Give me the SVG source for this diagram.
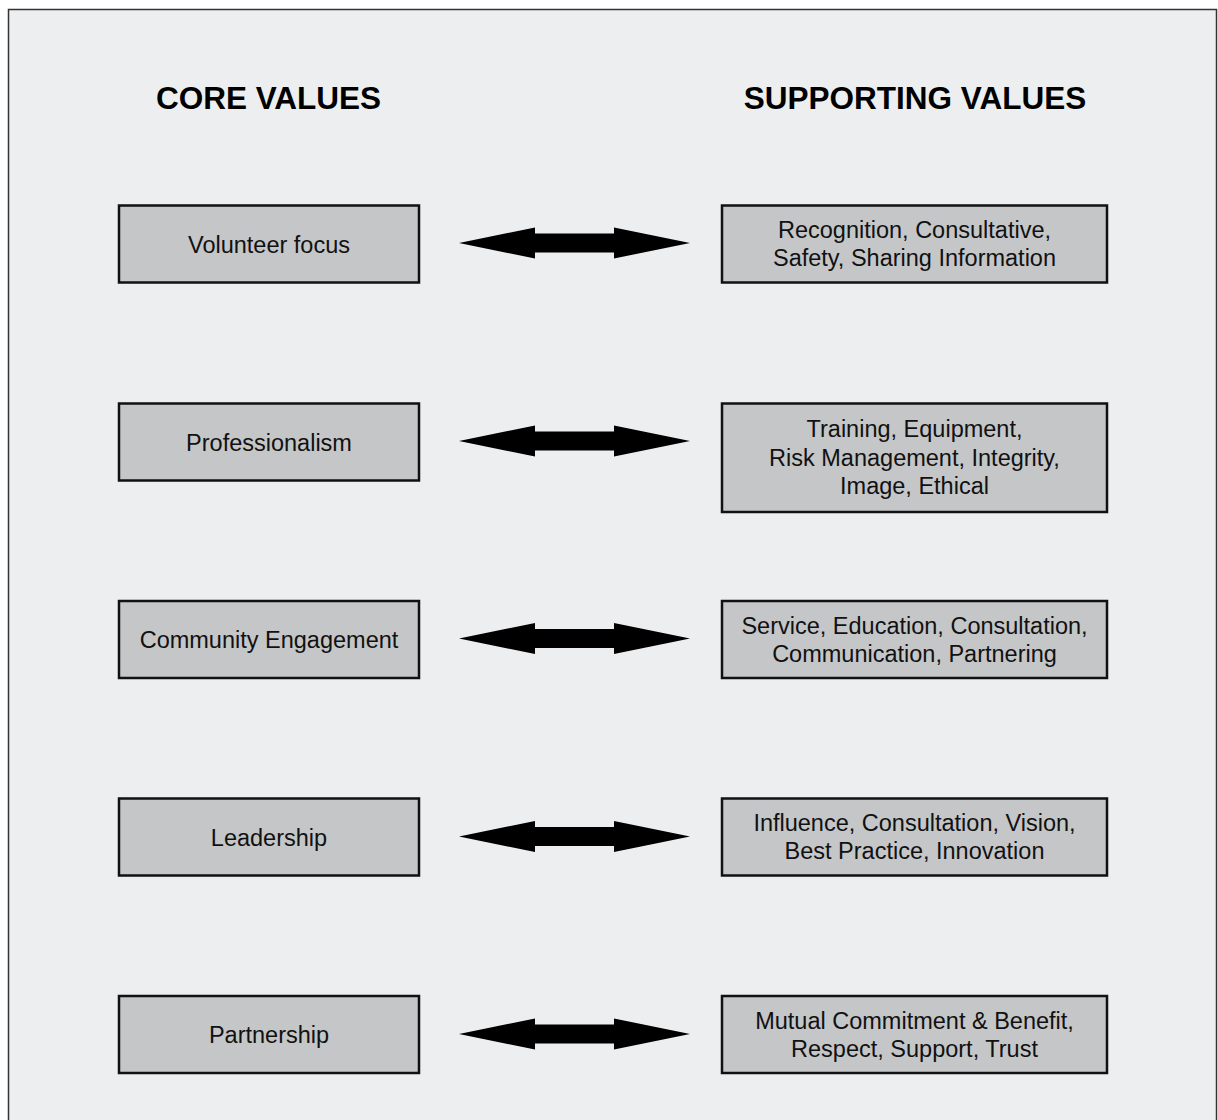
<svg xmlns="http://www.w3.org/2000/svg" xmlns:xlink="http://www.w3.org/1999/xlink" width="1218" height="1120" viewBox="0 0 1218 1120">
<style>
.box{fill:#C5C6C8;stroke:#111;stroke-width:2.5}
.hdr{font-family:"Liberation Sans",Arial,sans-serif;font-weight:bold;font-size:31.5px;fill:#000;text-anchor:middle}
.lbl{font-family:"Liberation Sans",Arial,sans-serif;font-size:23.5px;fill:#111;text-anchor:middle}
.arr{fill:#000}
</style>
<defs>
<path id="dbl" d="M459,0 L535,-15.5 L535,-9.5 L614,-9.5 L614,-15.5 L690,0 L614,15.5 L614,9.5 L535,9.5 L535,15.5 Z"/>
</defs>
<rect x="0" y="0" width="1218" height="1120" fill="#FFFFFF"/>
<rect x="8.5" y="9.5" width="1208" height="1120" fill="#EDEEF0" stroke="#333" stroke-width="1.5"/>
<text class="hdr" x="268.5" y="109">CORE VALUES</text>
<text class="hdr" x="915" y="109">SUPPORTING VALUES</text>

<g id="core-volunteer"><rect class="box" x="119" y="205.5" width="300" height="77"/><text class="lbl" x="269" y="252.5">Volunteer focus</text></g>
<g id="core-professionalism"><rect class="box" x="119" y="403.5" width="300" height="77"/><text class="lbl" x="269" y="450.5">Professionalism</text></g>
<g id="core-community"><rect class="box" x="119" y="601" width="300" height="77"/><text class="lbl" x="269" y="648">Community Engagement</text></g>
<g id="core-leadership"><rect class="box" x="119" y="798.5" width="300" height="77"/><text class="lbl" x="269" y="845.5">Leadership</text></g>
<g id="core-partnership"><rect class="box" x="119" y="996" width="300" height="77"/><text class="lbl" x="269" y="1043">Partnership</text></g>

<g id="sup-volunteer"><rect class="box" x="722" y="205.5" width="385" height="77"/><text class="lbl" x="914.5" y="238">Recognition, Consultative,</text><text class="lbl" x="914.5" y="266">Safety, Sharing Information</text></g>
<g id="sup-professionalism"><rect class="box" x="722" y="403.5" width="385" height="108.5"/><text class="lbl" x="914.5" y="437">Training, Equipment,</text><text class="lbl" x="914.5" y="465.5">Risk Management, Integrity,</text><text class="lbl" x="914.5" y="494">Image, Ethical</text></g>
<g id="sup-community"><rect class="box" x="722" y="601" width="385" height="77"/><text class="lbl" x="914.5" y="634">Service, Education, Consultation,</text><text class="lbl" x="914.5" y="662">Communication, Partnering</text></g>
<g id="sup-leadership"><rect class="box" x="722" y="798.5" width="385" height="77"/><text class="lbl" x="914.5" y="831">Influence, Consultation, Vision,</text><text class="lbl" x="914.5" y="859">Best Practice, Innovation</text></g>
<g id="sup-partnership"><rect class="box" x="722" y="996" width="385" height="77"/><text class="lbl" x="914.5" y="1029">Mutual Commitment &amp; Benefit,</text><text class="lbl" x="914.5" y="1057">Respect, Support, Trust</text></g>

<g id="connectors" class="arr">
<use xlink:href="#dbl" href="#dbl" transform="translate(0,243)"/>
<use xlink:href="#dbl" href="#dbl" transform="translate(0,441)"/>
<use xlink:href="#dbl" href="#dbl" transform="translate(0,638.5)"/>
<use xlink:href="#dbl" href="#dbl" transform="translate(0,836.5)"/>
<use xlink:href="#dbl" href="#dbl" transform="translate(0,1034)"/>
</g>
</svg>
